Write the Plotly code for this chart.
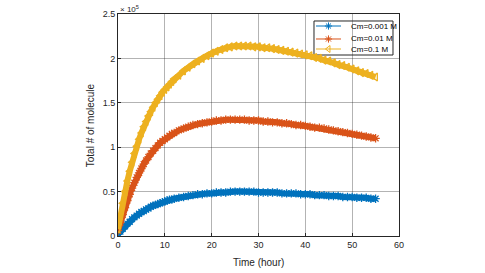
import plotly.graph_objects as go

# time points (hour)
time_h = [0, 0.5, 1, 1.5, 2, 2.5, 3, 3.5, 4, 4.5, 5, 5.5, 6, 6.5, 7, 7.5, 8, 8.5, 9, 9.5,
          10, 10.5, 11, 11.5, 12] + list(range(13, 56))

# total molecules, in units of 1e5
cm_0001 = [0.02, 0.05, 0.08, 0.11, 0.14, 0.16, 0.19, 0.21, 0.23, 0.25, 0.27, 0.28, 0.30, 0.31,
           0.33, 0.34, 0.35, 0.36, 0.37, 0.38, 0.39, 0.40, 0.41, 0.41, 0.42,
           0.43, 0.44, 0.45, 0.46, 0.47, 0.47, 0.48, 0.48, 0.49, 0.49, 0.49, 0.50, 0.50, 0.50,
           0.50, 0.50, 0.50, 0.49, 0.49, 0.49, 0.49, 0.49, 0.48, 0.48, 0.48, 0.48, 0.47, 0.47,
           0.47, 0.46, 0.46, 0.46, 0.45, 0.45, 0.45, 0.44, 0.44, 0.44, 0.43, 0.43, 0.43, 0.42, 0.42]
cm_001 = [0.06, 0.15, 0.24, 0.32, 0.40, 0.47, 0.54, 0.60, 0.66, 0.71, 0.76, 0.81, 0.85, 0.89,
          0.93, 0.96, 0.99, 1.02, 1.05, 1.07, 1.09, 1.11, 1.13, 1.15, 1.16,
          1.19, 1.21, 1.23, 1.25, 1.26, 1.27, 1.28, 1.29, 1.30, 1.30, 1.31, 1.31, 1.31, 1.31,
          1.31, 1.30, 1.30, 1.30, 1.29, 1.29, 1.28, 1.28, 1.27, 1.27, 1.26, 1.25, 1.25, 1.24,
          1.23, 1.22, 1.22, 1.21, 1.20, 1.19, 1.18, 1.17, 1.16, 1.15, 1.14, 1.13, 1.12, 1.11, 1.10]
cm_01 = [0.08, 0.23, 0.37, 0.50, 0.62, 0.73, 0.83, 0.93, 1.01, 1.09, 1.16, 1.23, 1.29, 1.35,
         1.40, 1.45, 1.50, 1.54, 1.58, 1.62, 1.65, 1.68, 1.71, 1.74, 1.77,
         1.81, 1.86, 1.90, 1.94, 1.97, 2.00, 2.03, 2.06, 2.08, 2.10, 2.12, 2.13, 2.14, 2.14,
         2.14, 2.14, 2.13, 2.13, 2.12, 2.12, 2.11, 2.10, 2.09, 2.08, 2.07, 2.06, 2.05, 2.04,
         2.03, 2.01, 2.00, 1.98, 1.97, 1.95, 1.93, 1.92, 1.90, 1.88, 1.86, 1.84, 1.83, 1.81, 1.79]

series_names = ["Cm=0.001 M", "Cm=0.01 M", "Cm=0.1 M"]
x_ticks = [0, 10, 20, 30, 40, 50, 60]
y_ticks = [0, 0.5, 1, 1.5, 2, 2.5]
y_tick_labels = ["0", "0.5", "1", "1.5", "2", "2.5"]

colors = ["#0072BD", "#D95319", "#EDB120"]
symbols = ["asterisk-open", "asterisk-open", "triangle-left-open"]

fig = go.Figure()
for name, ys, c, s in zip(series_names, [cm_0001, cm_001, cm_01], colors, symbols):
    fig.add_trace(go.Scatter(
        x=time_h, y=ys, name=name, mode="lines+markers", showlegend=False,
        line=dict(color=c, width=6),
        marker=dict(symbol=s, size=7, color=c, line=dict(color=c, width=1.3)),
    ))

# custom compact legend (MATLAB style) in paper-like overlay axes
leg_rows = [0.9459, 0.8874, 0.8423]
leg_x0, leg_x1 = 0.6975, 0.9786
leg_y0, leg_y1 = 0.8153, 0.9685
fig.add_shape(type="rect", xref="paper", yref="paper", x0=leg_x0, x1=leg_x1, y0=leg_y0, y1=leg_y1,
              line=dict(color="#262626", width=1), fillcolor="white", layer="between")
for name, c, s, ry in zip(series_names, colors, symbols, leg_rows):
    fig.add_shape(type="line", xref="paper", yref="paper", x0=0.7046, x1=0.7936, y0=ry, y1=ry,
                  line=dict(color=c, width=1), layer="above")
    fig.add_trace(go.Scatter(x=[0.749], y=[ry], xaxis="x2", yaxis="y2", mode="markers",
                             showlegend=False, hoverinfo="skip",
                             marker=dict(symbol=s, size=6, color=c, line=dict(color=c, width=1))))
    fig.add_annotation(text=name, xref="paper", yref="paper", x=0.822, y=ry, xanchor="left",
                       yanchor="middle", showarrow=False, font=dict(size=8, color="#000"))

axis_common = dict(
    showline=True, linecolor="#262626", linewidth=1, mirror=True,
    ticks="inside", ticklen=3, tickcolor="#262626",
    showgrid=True, gridcolor="rgba(38,38,38,0.35)", gridwidth=1, automargin=False,
    zeroline=False, tickfont=dict(size=9, color="#262626", family="Liberation Sans, Arial"),
)

fig.update_layout(
    width=485, height=273,
    margin=dict(l=118, r=86, t=14, b=37),
    paper_bgcolor="white", plot_bgcolor="white",
    font=dict(family="Liberation Sans, Arial", color="#262626"),
    xaxis=dict(range=[0, 60], tickvals=x_ticks, **axis_common),
    yaxis=dict(range=[0, 2.5], tickvals=y_ticks, ticktext=y_tick_labels, **axis_common),
    xaxis2=dict(range=[0, 1], overlaying="x", visible=False, fixedrange=True),
    yaxis2=dict(range=[0, 1], overlaying="y", visible=False, fixedrange=True),
    showlegend=False,
)

fig.add_annotation(text="Time (hour)", xref="paper", yref="paper", x=0.5, y=-0.087,
                   xanchor="center", yanchor="top", showarrow=False, font=dict(size=10))
fig.add_annotation(text="Total # of molecule", xref="paper", yref="paper", x=-0.072, y=0.5,
                   textangle=-90, xanchor="right", yanchor="middle", showarrow=False,
                   font=dict(size=10))
fig.add_annotation(text="× 10<sup>5</sup>", xref="paper", yref="paper", x=0, y=1,
                   xanchor="left", yanchor="bottom", showarrow=False,
                   font=dict(size=8, color="#262626"), yshift=-2)

# remove the default page margin so the figure sits at the window's top-left corner
fig.write_html("out.html", config={"displayModeBar": False},
               post_script="document.body.style.margin='0';")
